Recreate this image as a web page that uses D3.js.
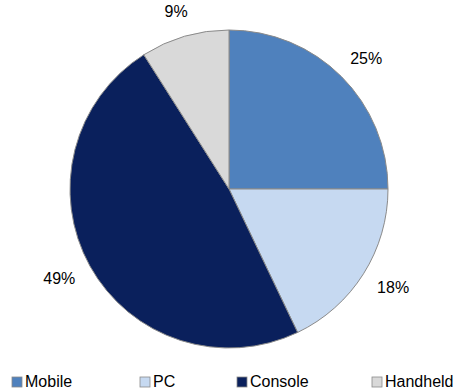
<!DOCTYPE html>
<html>
<head>
<meta charset="utf-8">
<script src="https://cdn.jsdelivr.net/npm/d3@7"></script>
<style>
  body { margin: 0; background: #fff; }
  text { font-family: "Liberation Sans", Arial, sans-serif; fill: #000; }
</style>
</head>
<body>
<svg id="chart" width="453" height="390"></svg>
<script>
const categories = ['Mobile', 'PC', 'Console', 'Handheld'];
const shares = [25, 17.9, 48.1, 9.0];
const labels = ['25%', '18%', '49%', '9%'];
const colors = ['#4f81bd', '#c6d9f1', '#0a205c', '#d9d9d9'];
const legendPos = [12, 140, 237, 372];

const data = categories.map((c, i) => ({ name: c, value: shares[i], label: labels[i] }));

const svg = d3.select('#chart');
const cx = 229, cy = 189, radius = 159;

const pie = d3.pie().value(d => d.value).sort(null);
const arc = d3.arc().innerRadius(0).outerRadius(radius);

const g = svg.append('g').attr('transform', `translate(${cx},${cy})`);
const arcs = pie(data);

g.selectAll('path')
  .data(arcs)
  .join('path')
  .attr('d', arc)
  .attr('fill', (d, i) => colors[i])
  .attr('stroke', '#8a8a8a')
  .attr('stroke-width', 1);

// labels sit just outside the pie, pushed out by half their box
const lr = 178;
g.selectAll('text')
  .data(arcs)
  .join('text')
  .attr('text-anchor', 'middle')
  .attr('dy', '0.35em')
  .style('font-size', '16px')
  .text(d => d.data.label)
  .attr('transform', function(d) {
    const a = (d.startAngle + d.endAngle) / 2;
    const b = this.getBBox();
    const x = Math.sin(a) * (lr + b.width / 2);
    const y = -Math.cos(a) * (lr + 7);
    return `translate(${x},${y})`;
  });

// legend
const legend = svg.append('g').attr('transform', 'translate(0,377)');
const item = legend.selectAll('g')
  .data(data)
  .join('g')
  .attr('transform', (d, i) => `translate(${legendPos[i]},0)`);

item.append('rect')
  .attr('width', 10)
  .attr('height', 10)
  .attr('fill', (d, i) => colors[i])
  .attr('stroke', '#8a8a8a')
  .attr('stroke-width', 0.8);

item.append('text')
  .attr('x', 13)
  .attr('y', 10)
  .style('font-size', '16px')
  .text(d => d.name);
</script>
</body>
</html>
